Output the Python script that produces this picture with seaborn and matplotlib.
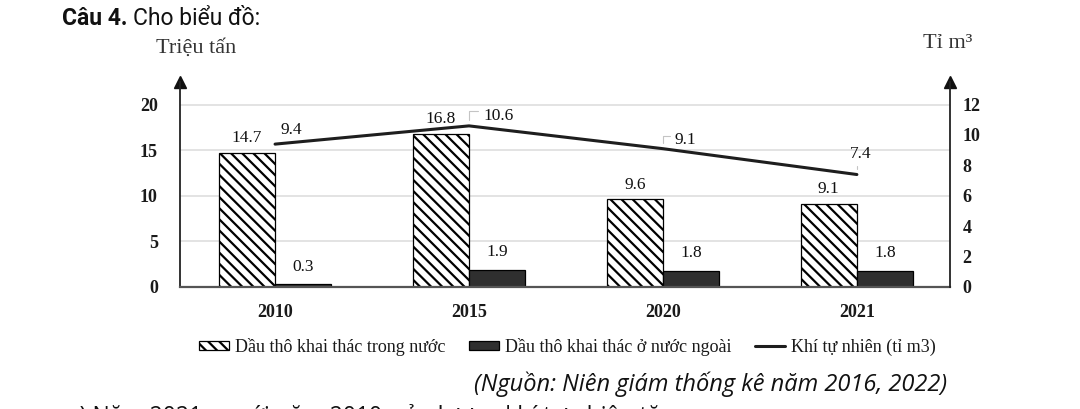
import numpy as np
import pandas as pd
import matplotlib
matplotlib.use("Agg")
import matplotlib.pyplot as plt
import seaborn as sns

# Data
years = ["2010", "2015", "2020", "2021"]
dau_trong_nuoc = [14.7, 16.8, 9.6, 9.1]     # triệu tấn
dau_nuoc_ngoai = [0.3, 1.9, 1.8, 1.8]       # triệu tấn
khi_tu_nhien = [9.4, 10.6, 9.1, 7.4]        # tỉ m3

lbl_trong = "Dầu thô khai thác trong nước"
lbl_ngoai = "Dầu thô khai thác ở nước ngoài"
lbl_khi = "Khí tự nhiên (tỉ m3)"

left_ticks = [0, 5, 10, 15, 20]
right_ticks = [0, 2, 4, 6, 8, 10, 12]

sns.set_style("white")
plt.rcParams["font.family"] = ["Liberation Serif", "DejaVu Serif"]
plt.rcParams["hatch.linewidth"] = 1.6

df = pd.DataFrame({
    "Năm": years * 2,
    "Giá trị": dau_trong_nuoc + dau_nuoc_ngoai,
    "Loại": [lbl_trong] * len(years) + [lbl_ngoai] * len(years),
})

fig = plt.figure(figsize=(10.8, 4.09), dpi=100)
ax = fig.add_axes([0.1667, 0.2983, 0.7129, 0.5017])

sns.barplot(data=df, x="Năm", y="Giá trị", hue="Loại", width=0.58,
            palette={lbl_trong: "white", lbl_ngoai: "#2f2f2f"},
            saturation=1, edgecolor="black", linewidth=0.9, legend=False, ax=ax)

for bar in ax.containers[0]:
    bar.set_hatch("\\\\\\")

ax.set_xlim(-0.49, 3.48)
ax.set_ylim(0, 22.5)
ax.set_yticks(left_ticks)
ax.set_xlabel("")
ax.set_ylabel("")
ax.set_axisbelow(True)
ax.yaxis.grid(True, color="#dedede", lw=1.2)
ax.tick_params(axis="y", length=0, pad=16, labelsize=13, colors="#1a1a1a")
ax.tick_params(axis="x", length=0, pad=12, labelsize=13, colors="#1a1a1a")
for t in ax.get_xticklabels() + ax.get_yticklabels():
    t.set_fontweight("bold")
for s in ["top", "right"]:
    ax.spines[s].set_visible(False)
ax.spines["left"].set_color("#222")
ax.spines["left"].set_linewidth(1.3)
ax.spines["bottom"].set_color("#555")
ax.spines["bottom"].set_linewidth(1.6)

# value labels over bars
ax.bar_label(ax.containers[0], labels=[str(v) for v in dau_trong_nuoc],
             padding=5, fontsize=12.5, color="#111")
ax.bar_label(ax.containers[1], labels=[str(v) for v in dau_nuoc_ngoai],
             padding=7, fontsize=12.5, color="#111")

# gas line on right axis
ax2 = ax.twinx()
x_pos = np.arange(len(years))
sns.lineplot(x=x_pos, y=khi_tu_nhien, color="#1e1e1e", lw=2.2, ax=ax2,
             label=lbl_khi, legend=False)
ax2.set_ylim(0, 13.5)
ax2.set_yticks(right_ticks)
ax2.set_ylabel("")
ax2.tick_params(axis="y", length=0, pad=9, labelsize=13, colors="#1a1a1a")
for t in ax2.get_yticklabels():
    t.set_fontweight("bold")
for s in ["top", "left", "bottom"]:
    ax2.spines[s].set_visible(False)
ax2.spines["right"].set_color("#222")
ax2.spines["right"].set_linewidth(1.3)

# labels for the line, offsets in points
line_offsets = [(12, 10), (21, 7), (16, 6), (3, 15)]
leaders = [False, True, True, True]
for i, (v, off, lead) in enumerate(zip(khi_tu_nhien, line_offsets, leaders)):
    kw = {}
    if lead:
        kw["arrowprops"] = dict(arrowstyle="-", color="#c4c4c4", lw=0.8,
                                relpos=(0, 0.8), shrinkA=1, shrinkB=4,
                                connectionstyle="angle,angleA=0,angleB=90,rad=0")
    ax2.annotate(str(v), (x_pos[i], v), xytext=off, textcoords="offset points",
                 ha="center", va="center", fontsize=12.5, color="#111", **kw)

# arrow heads on both axes
ax.plot(0, 1, marker="^", color="#111", markersize=8, transform=ax.transAxes,
        clip_on=False)
ax2.plot(1, 1, marker="^", color="#111", markersize=8, transform=ax2.transAxes,
         clip_on=False)

# axis unit titles
fig.text(196 / 1080, 1 - 48 / 409, "Triệu tấn", ha="center", va="center",
         fontsize=16, color="#333")
fig.text(948 / 1080, 1 - 43 / 409, "Tỉ m³", ha="center", va="center",
         fontsize=16, color="#333")

# legend
handles = [ax.containers[0][0], ax.containers[1][0], ax2.lines[0]]
fig.legend(handles, [lbl_trong, lbl_ngoai, lbl_khi], loc="center",
           bbox_to_anchor=(0.525, 0.152), ncol=3, frameon=False, fontsize=13,
           handlelength=1.7, handleheight=0.4, handletextpad=0.3,
           columnspacing=1.3, labelcolor="#1a1a1a")

# document text around the chart
t1 = fig.text(62 / 1080, 1 - 30 / 409, "Câu 4.", family="Roboto",
              fontweight="bold", fontsize=16.5, va="bottom", color="#111")
ax.annotate("Cho biểu đồ:", xy=(1, 0), xycoords=t1, xytext=(4, 0),
            textcoords="offset points", family="Roboto", fontsize=16.5,
            va="bottom", color="#111")
fig.text(947 / 1080, 1 - 384 / 409, "(Nguồn: Niên giám thống kê năm 2016, 2022)",
         family="Open Sans", style="italic", fontsize=17, ha="right",
         va="center", color="#111")
fig.text(67 / 1080, 1 - 423 / 409,
         "a) Năm 2021 so với năm 2010, sản lượng khí tự nhiên tăng",
         family="Open Sans", fontsize=16.5, va="baseline", color="#111")

fig.savefig("out.png", dpi=100)
